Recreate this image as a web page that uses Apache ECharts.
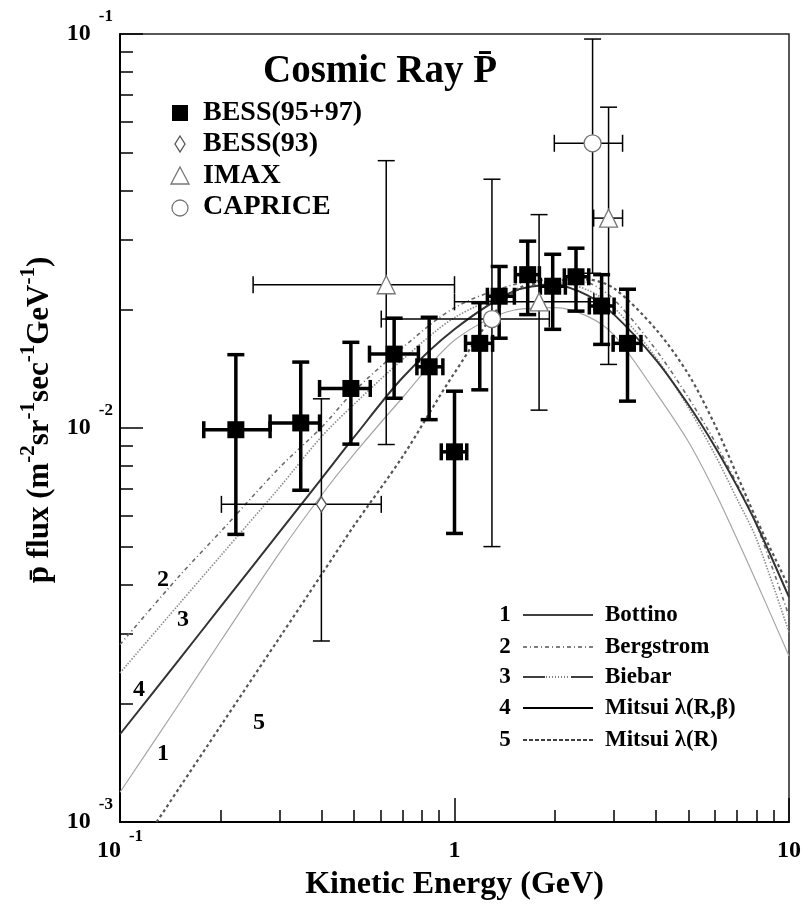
<!DOCTYPE html>
<html><head><meta charset="utf-8">
<script src="https://cdn.jsdelivr.net/npm/echarts@6/dist/echarts.min.js"></script>
<style>html,body{margin:0;padding:0;background:#fff}#c{width:804px;height:906px}</style>
</head><body><div id="c"></div>
<script>
// ---- data: [E (GeV), flux, Elow, Ehigh, fluxLow, fluxHigh]
const bess9597 = [
  [0.222, 0.0099, 0.178, 0.281, 0.00537, 0.01535],
  [0.347, 0.0103, 0.281, 0.395, 0.00695, 0.0147],
  [0.490, 0.0126, 0.395, 0.560, 0.0091, 0.0165],
  [0.660, 0.0154, 0.557, 0.780, 0.0119, 0.0190],
  [0.840, 0.0143, 0.772, 0.923, 0.0105, 0.0191],
  [1.000, 0.0087, 0.913, 1.088, 0.0054, 0.0124],
  [1.190, 0.0164, 1.079, 1.300, 0.0125, 0.0208],
  [1.360, 0.0216, 1.254, 1.510, 0.0169, 0.0257],
  [1.655, 0.0245, 1.520, 1.794, 0.0194, 0.0298],
  [1.966, 0.0229, 1.806, 2.145, 0.0178, 0.0276],
  [2.308, 0.0242, 2.130, 2.520, 0.0198, 0.0286],
  [2.753, 0.0204, 2.530, 3.000, 0.0163, 0.0245],
  [3.290, 0.0164, 2.980, 3.610, 0.0117, 0.0225]
];
const bess93 = [
  [0.400, 0.0064, 0.201, 0.604, 0.00288, 0.01186]
];
const imax = [
  [0.625, 0.0231, 0.250, 1.000, 0.00908, 0.0477],
  [1.790, 0.0209, 1.000, 2.610, 0.0111, 0.0348],
  [2.888, 0.0341, 2.606, 3.180, 0.0145, 0.0652]
];
const caprice = [
  [1.294, 0.0189, 0.604, 1.921, 0.0050, 0.0428],
  [2.587, 0.0528, 1.988, 3.180, 0.0247, 0.0971]
];
// ---- model curves
const curveE   = [0.1, 0.15, 0.2, 0.3, 0.4, 0.5, 0.7, 1.0, 1.5, 2.0, 2.5, 3.0, 4.0, 5.0, 6.0, 7.0, 8.0, 10.0];
const bottino  = [0.00119, 0.00199, 0.00288, 0.00482, 0.00675, 0.00857, 0.01195, 0.0167, 0.0199, 0.0202, 0.0192, 0.0172, 0.0123, 0.00924, 0.0069, 0.00522, 0.00406, 0.00264];
const bergstrom= [0.00282, 0.0042, 0.00546, 0.00794, 0.01003, 0.01238, 0.0160, 0.0202, 0.0231, 0.0238, 0.0234, 0.02117, 0.0158, 0.01195, 0.00924, 0.00719, 0.00569, 0.00333];
const biebar   = [0.00239, 0.00357, 0.00474, 0.00707, 0.0095, 0.01147, 0.01493, 0.01906, 0.0222, 0.0234, 0.0224, 0.0202, 0.0151, 0.01127, 0.00857, 0.00659, 0.00522, 0.00303];
const mitsuiRB = [0.00167, 0.00258, 0.00352, 0.00545, 0.00743, 0.00946, 0.01343, 0.0178, 0.0222, 0.0231, 0.0217, 0.0194, 0.0149, 0.01147, 0.00898, 0.00711, 0.00569, 0.00372];
const curve5E  = [0.1287, 0.15, 0.2, 0.3, 0.4, 0.5, 0.7, 1.0, 1.5, 2.0, 2.5, 3.0, 4.0, 5.0, 6.0, 7.0, 8.0, 10.0];
const mitsuiR  = [0.0010, 0.001216, 0.001754, 0.002938, 0.00424, 0.00564, 0.00847, 0.0138, 0.0222, 0.0236, 0.0238, 0.0226, 0.0178, 0.0137, 0.0102, 0.00758, 0.00586, 0.00394];
// ---- axes
const xMajor = [0.1, 1, 10];
const xMajorText = [['10', '-1'], ['1', ''], ['10', '']];
const yMajor = [0.001, 0.01, 0.1];
const yMajorText = [['10', '-3'], ['10', '-2'], ['10', '-1']];
const xMinor = [0.2,0.3,0.4,0.5,0.6,0.7,0.8,0.9,2,3,4,5,6,7,8,9];
const yMinor = [0.002,0.003,0.004,0.005,0.006,0.007,0.008,0.009,0.02,0.03,0.04,0.05,0.06,0.07,0.08,0.09];
const curveNames = ['Bottino', 'Bergstrom', 'Biebar', 'Mitsui \u03bb(R,\u03b2)', 'Mitsui \u03bb(R)'];
const dataNames = ['BESS(95+97)', 'BESS(93)', 'IMAX', 'CAPRICE'];

const FF = "'Liberation Serif','Times New Roman',serif";
function zip(xs, ys) { return xs.map((x, i) => [x, ys[i]]); }
function findIdx(arr, v) { return arr.findIndex(m => Math.abs(Math.log10(m) - Math.log10(v)) < 1e-6); }
function fmt(majors, texts) {
  return function (v) {
    const i = findIdx(majors, v);
    if (i < 0) return '';
    const t = texts[i];
    return '{b|' + t[0] + '}' + (t[1] ? '{e|' + t[1] + '}' : '');
  };
}
function errRender(lw, cap, color) {
  return function (params, api) {
    const E = api.value(0), F = api.value(1);
    const l = api.coord([api.value(2), F]), r = api.coord([api.value(3), F]);
    const t = api.coord([E, api.value(5)]), b = api.coord([E, api.value(4)]);
    const st = { stroke: color, lineWidth: lw, fill: null };
    const h = cap / 2;
    const L = (x1, y1, x2, y2) => ({ type: 'line', shape: { x1, y1, x2, y2 }, style: st });
    return { type: 'group', children: [
      L(l[0], l[1], r[0], r[1]),
      L(t[0], t[1], b[0], b[1]),
      L(l[0], l[1] - h, l[0], l[1] + h),
      L(r[0], r[1] - h, r[0], r[1] + h),
      L(t[0] - h, t[1], t[0] + h, t[1]),
      L(b[0] - h, b[1], b[0] + h, b[1])
    ]};
  };
}
function errSeries(data, lw, cap, color) {
  return { type: 'custom', data: data, renderItem: errRender(lw, cap, color),
    encode: { x: 0, y: 1 }, z: 3, clip: false, silent: true };
}

const chart = echarts.init(document.getElementById('c'), null, { renderer: 'canvas' });
const axisTxt = { fontFamily: FF, fontWeight: 'bold', color: '#000' };
const option = {
  backgroundColor: '#fff',
  animation: false,
  grid: { left: 120, right: 14, top: 34, bottom: 83, show: true, borderColor: '#222', borderWidth: 1.5, backgroundColor: 'transparent' },
  xAxis: [
    { type: 'log', logBase: 10, min: 0.1, max: 10, position: 'bottom',
      name: 'Kinetic Energy (GeV)', nameLocation: 'middle', nameGap: 47,
      nameTextStyle: { fontFamily: FF, fontWeight: 'bold', fontSize: 32, color: '#000' },
      axisLine: { show: true, lineStyle: { color: '#000', width: 2 } },
      axisTick: { show: true, inside: true, length: 12, customValues: xMinor, lineStyle: { color: '#000', width: 1.5 } },
      minorTick: { show: false }, splitLine: { show: false },
      axisLabel: { show: true, margin: 6, formatter: fmt(xMajor, xMajorText), customValues: xMajor,
        rich: {
          b: Object.assign({ fontSize: 24, lineHeight: 46 }, axisTxt),
          e: Object.assign({ fontSize: 17, lineHeight: 14, verticalAlign: 'top', padding: [0, 0, 0, 8] }, axisTxt)
        } } },
    { type: 'log', logBase: 10, min: 0.1, max: 10, position: 'bottom', gridIndex: 0,
      axisLine: { show: false }, axisLabel: { show: false }, splitLine: { show: false },
      axisTick: { show: true, inside: true, length: 24, customValues: xMajor, lineStyle: { color: '#000', width: 1.5 } } }
  ],
  yAxis: [
    { type: 'log', logBase: 10, min: 0.001, max: 0.1, position: 'left',
      name: '{a|p\u0304 flux (m}{s|-2}{a|sr}{s|-1}{a|sec}{s|-1}{a|GeV}{s|-1}{a|)}',
      nameLocation: 'middle', nameRotate: 90, nameGap: 55,
      nameTextStyle: { padding: [0, 0, 0, 16], rich: {
        a: Object.assign({ fontSize: 31, lineHeight: 44 }, axisTxt),
        s: Object.assign({ fontSize: 21, lineHeight: 12, verticalAlign: 'top' }, axisTxt)
      } },
      axisLine: { show: true, lineStyle: { color: '#000', width: 2 } },
      axisTick: { show: true, inside: true, length: 13, customValues: yMinor, lineStyle: { color: '#000', width: 1.5 } },
      minorTick: { show: false }, splitLine: { show: false },
      axisLabel: { show: true, margin: 7, formatter: fmt(yMajor, yMajorText), customValues: yMajor,
        rich: {
          b: Object.assign({ fontSize: 24, lineHeight: 52 }, axisTxt),
          e: Object.assign({ fontSize: 17, lineHeight: 8, verticalAlign: 'top', padding: [0, 0, 0, 8] }, axisTxt)
        } } },
    { type: 'log', logBase: 10, min: 0.001, max: 0.1, position: 'left', gridIndex: 0,
      axisLine: { show: false }, axisLabel: { show: false }, splitLine: { show: false },
      axisTick: { show: true, inside: true, length: 23, customValues: yMajor, lineStyle: { color: '#000', width: 1.5 } } }
  ],
  series: [
    { name: curveNames[0], type: 'line', data: zip(curveE, bottino), showSymbol: false, smooth: 0.3, z: 2,
      lineStyle: { color: '#a6a6a6', width: 1.2 } },
    { name: curveNames[1], type: 'line', data: zip(curveE, bergstrom), showSymbol: false, smooth: 0.3, z: 2,
      lineStyle: { color: '#6a6a6a', width: 1.6, type: [4, 3, 1, 3] } },
    { name: curveNames[2], type: 'line', data: zip(curveE, biebar), showSymbol: false, smooth: 0.3, z: 2,
      lineStyle: { color: '#8c8c8c', width: 1.6, type: [1.5, 1.5] } },
    { name: curveNames[3], type: 'line', data: zip(curveE, mitsuiRB), showSymbol: false, smooth: 0.3, z: 2,
      lineStyle: { color: '#333', width: 2 } },
    { name: curveNames[4], type: 'line', data: zip(curve5E, mitsuiR), showSymbol: false, smooth: 0.3, z: 2,
      lineStyle: { color: '#555', width: 2.2, type: [3, 3] } },
    errSeries(bess93, 1.5, 17, '#000'),
    errSeries(imax, 1.5, 17, '#000'),
    errSeries(caprice, 1.5, 17, '#000'),
    errSeries(bess9597, 3.5, 17, '#000'),
    { name: dataNames[1], type: 'scatter', data: bess93.map(r => [r[0], r[1]]), symbol: 'diamond', symbolSize: [10, 15], z: 5,
      itemStyle: { color: '#fff', borderColor: '#555', borderWidth: 1.3, opacity: 1 } },
    { name: dataNames[2], type: 'scatter', data: imax.map(r => [r[0], r[1]]), symbol: 'triangle', symbolSize: 18, z: 5,
      itemStyle: { color: '#fff', borderColor: '#777', borderWidth: 1.3, opacity: 1 } },
    { name: dataNames[3], type: 'scatter', data: caprice.map(r => [r[0], r[1]]), symbol: 'circle', symbolSize: 17, z: 5,
      itemStyle: { color: '#fff', borderColor: '#777', borderWidth: 1.3, opacity: 1 } },
    { name: dataNames[0], type: 'scatter', data: bess9597.map(r => [r[0], r[1]]), symbol: 'rect', symbolSize: 17, z: 6,
      itemStyle: { color: '#000', opacity: 1 } }
  ],
  graphic: [
    { type: 'text', x: 380, y: 72, style: { text: 'Cosmic Ray P\u0304', fontFamily: FF, fontWeight: 'bold', fontSize: 39, fill: '#000', align: 'center', verticalAlign: 'middle' } },
    // data legend
    { type: 'rect', shape: { x: 172, y: 105, width: 16, height: 16 }, style: { fill: '#000' } },
    { type: 'polygon', shape: { points: [[180, 136], [185, 144], [180, 152], [175, 144]] }, style: { fill: '#fff', stroke: '#555', lineWidth: 1.3 } },
    { type: 'polygon', shape: { points: [[180, 167], [189, 184], [171, 184]] }, style: { fill: '#fff', stroke: '#777', lineWidth: 1.3 } },
    { type: 'circle', shape: { cx: 180, cy: 208, r: 8 }, style: { fill: '#fff', stroke: '#777', lineWidth: 1.3 } },
    { type: 'text', x: 203, y: 113, style: { text: dataNames[0], fontFamily: FF, fontWeight: 'bold', fontSize: 28, fill: '#000', verticalAlign: 'middle' } },
    { type: 'text', x: 203, y: 144, style: { text: dataNames[1], fontFamily: FF, fontWeight: 'bold', fontSize: 28, fill: '#000', verticalAlign: 'middle' } },
    { type: 'text', x: 203, y: 176, style: { text: dataNames[2], fontFamily: FF, fontWeight: 'bold', fontSize: 28, fill: '#000', verticalAlign: 'middle' } },
    { type: 'text', x: 203, y: 207, style: { text: dataNames[3], fontFamily: FF, fontWeight: 'bold', fontSize: 28, fill: '#000', verticalAlign: 'middle' } },
    // model legend
    ...[615, 647, 677, 708, 740].flatMap((y, i) => [
      { type: 'text', x: 505, y: y, style: { text: String(i + 1), fontFamily: FF, fontWeight: 'bold', fontSize: 23, fill: '#000', align: 'center', verticalAlign: 'middle' } },
      { type: 'text', x: 605, y: y, style: { text: curveNames[i], fontFamily: FF, fontWeight: 'bold', fontSize: 23, fill: '#000', verticalAlign: 'middle' } }
    ]),
    { type: 'line', shape: { x1: 523, y1: 615, x2: 593, y2: 615 }, style: { stroke: '#000', lineWidth: 1.5 } },
    { type: 'line', shape: { x1: 523, y1: 647, x2: 593, y2: 647 }, style: { stroke: '#000', lineWidth: 1.2, lineDash: [4, 3, 1, 3] } },
    { type: 'line', shape: { x1: 523, y1: 677, x2: 545, y2: 677 }, style: { stroke: '#000', lineWidth: 1.5 } },
    { type: 'line', shape: { x1: 546, y1: 677, x2: 570, y2: 677 }, style: { stroke: '#000', lineWidth: 1.2, lineDash: [1, 2] } },
    { type: 'line', shape: { x1: 571, y1: 677, x2: 593, y2: 677 }, style: { stroke: '#000', lineWidth: 1.5 } },
    { type: 'line', shape: { x1: 523, y1: 708, x2: 593, y2: 708 }, style: { stroke: '#000', lineWidth: 2 } },
    { type: 'line', shape: { x1: 523, y1: 740, x2: 593, y2: 740 }, style: { stroke: '#000', lineWidth: 1.3, lineDash: [4, 2] } },
    // curve number labels
    { type: 'text', x: 163, y: 580, style: { text: '2', fontFamily: FF, fontWeight: 'bold', fontSize: 24, fill: '#000', align: 'center', verticalAlign: 'middle' } },
    { type: 'text', x: 183, y: 620, style: { text: '3', fontFamily: FF, fontWeight: 'bold', fontSize: 24, fill: '#000', align: 'center', verticalAlign: 'middle' } },
    { type: 'text', x: 139, y: 690, style: { text: '4', fontFamily: FF, fontWeight: 'bold', fontSize: 24, fill: '#000', align: 'center', verticalAlign: 'middle' } },
    { type: 'text', x: 163, y: 754, style: { text: '1', fontFamily: FF, fontWeight: 'bold', fontSize: 24, fill: '#000', align: 'center', verticalAlign: 'middle' } },
    { type: 'text', x: 259, y: 723, style: { text: '5', fontFamily: FF, fontWeight: 'bold', fontSize: 24, fill: '#000', align: 'center', verticalAlign: 'middle' } }
  ]
};
chart.setOption(option);
</script></body></html>
